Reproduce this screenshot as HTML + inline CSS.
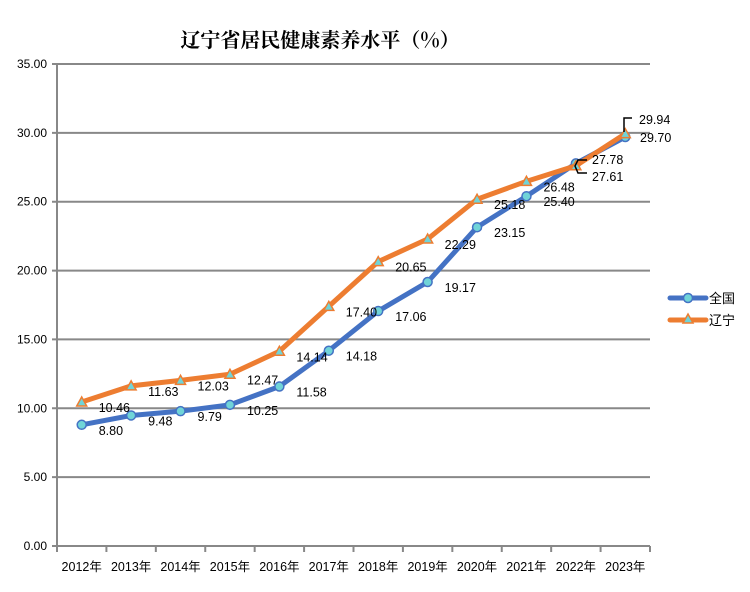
<!DOCTYPE html>
<html><head><meta charset="utf-8"><style>
body{margin:0;background:#fff}
svg text{font-family:"Liberation Sans","Noto Sans CJK SC",sans-serif;}
</style></head><body>
<svg id="c" width="750" height="587" viewBox="0 0 750 587" xmlns="http://www.w3.org/2000/svg">
<text x="320" y="47" text-anchor="middle" font-size="20" font-weight="bold" style="font-family:'Noto Serif CJK SC','Noto Sans CJK SC',serif">辽宁省居民健康素养水平（%）</text>
<g id="grid"></g><g id="series"></g>
<g>
<line x1="670" y1="298" x2="706" y2="298" stroke="#4472C4" stroke-width="5" stroke-linecap="round"/>
<circle cx="688" cy="298" r="4.5" fill="#70d4d8" stroke="#4472C4" stroke-width="1.5"/>
<text x="709" y="303" font-size="13">全国</text>
<line x1="670" y1="320" x2="706" y2="320" stroke="#ED7D31" stroke-width="5" stroke-linecap="round"/>
<polygon points="688,314 693,323 683,323" fill="#70d4d8" stroke="#ED7D31" stroke-width="1.5"/>
<text x="709" y="325" font-size="13">辽宁</text>
</g>
</svg>
<script>
const categories=["2012年","2013年","2014年","2015年","2016年","2017年","2018年","2019年","2020年","2021年","2022年","2023年"];
const national=[8.80,9.48,9.79,10.25,11.58,14.18,17.06,19.17,23.15,25.40,27.78,29.70];
const liaoning=[10.46,11.63,12.03,12.47,14.14,17.40,20.65,22.29,25.18,26.48,27.61,29.94];
const yTicks=[0,5,10,15,20,25,30,35];
const X0=57,X1=650,Y0=546,Y1=64,YMAX=35;
const NS="http://www.w3.org/2000/svg";
const step=(X1-X0)/categories.length;
const x=i=>X0+step*(i+0.5);
const y=v=>Y0-(v/YMAX)*(Y0-Y1);
function mk(t,a,p){const e=document.createElementNS(NS,t);for(const k in a)e.setAttribute(k,a[k]);p.appendChild(e);return e;}
const g=document.getElementById('grid'),s=document.getElementById('series');
yTicks.forEach(v=>{
  const l=mk('line',{x1:X0-5,x2:X1,y1:y(v),y2:y(v),stroke:'#888','stroke-width':2},g);
  
  
  const t=mk('text',{x:X0-10,y:y(v)+4,'text-anchor':'end','font-size':12},g);
  t.textContent=v.toFixed(2);
  
  
});
mk('line',{x1:X0,x2:X0,y1:Y1,y2:Y0,stroke:'#888','stroke-width':2},g);
categories.forEach((c,i)=>{
  mk('line',{x1:X0+step*i,x2:X0+step*i,y1:Y0,y2:Y0+6,stroke:'#888','stroke-width':2},g);
  const t=mk('text',{x:x(i),y:Y0+25,'text-anchor':'middle','font-size':12.5},g);
  t.textContent=c;
  
  
});
mk('line',{x1:X1,x2:X1,y1:Y0,y2:Y0+6,stroke:'#888','stroke-width':2},g);
function draw(data,color,name,tri){
  const p=mk('polyline',{points:data.map((v,i)=>x(i)+','+y(v)).join(' '),fill:'none',stroke:color,'stroke-width':5,'stroke-linejoin':'round','stroke-linecap':'round'},s);
  
  
  data.forEach((v,i)=>{
    const cx=x(i),cy=y(v);let m;
    if(tri)m=mk('polygon',{points:`${cx},${cy-5} ${cx+5},${cy+4} ${cx-5},${cy+4}`,fill:'#70d4d8',stroke:color,'stroke-width':1.5},s);
    else m=mk('circle',{cx:cx,cy:cy,r:4.5,fill:'#70d4d8',stroke:color,'stroke-width':1.5},s);
    
    
  });
}
draw(national,'#4472C4','national',false);
draw(liaoning,'#ED7D31','liaoning',true);
function labels(data,name,special){
  data.forEach((v,i)=>{
    let lx=x(i)+17,ly=y(v)+10;
    if(special[i]){lx=special[i][0];ly=special[i][1];}
    const t=mk('text',{x:lx,y:ly,'font-size':12.5},s);
    t.textContent=v.toFixed(2);
    
    
  });
}
labels(national,'national',{10:[592,164],11:[640,142]});
labels(liaoning,'liaoning',{10:[592,181],11:[639,124]});
// leader lines
mk('path',{d:'M587,160 L578,160 L575,166 L578,173 L587,173',fill:'none',stroke:'#000','stroke-width':1.5},s);
mk('path',{d:'M624,132 L624,118 L632,118',fill:'none',stroke:'#000','stroke-width':1.5},s);
</script>
</body></html>
